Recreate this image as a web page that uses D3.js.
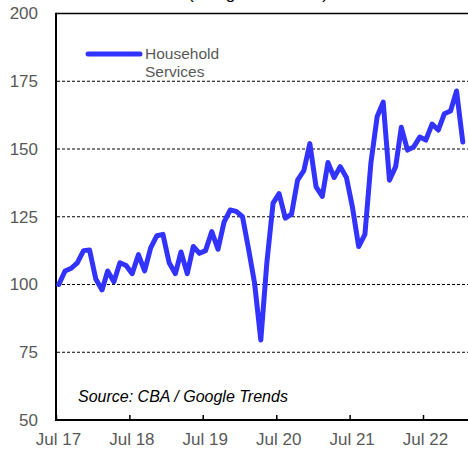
<!DOCTYPE html>
<html>
<head>
<meta charset="utf-8">
<script src="https://d3js.org/d3.v7.min.js"></script>
<style>
  body { margin: 0; background: #fff; }
  svg { display: block; font-family: "Liberation Sans", Arial, sans-serif; }
  .tick text { fill: #595959; font-size: 17px; }
  .grid line { stroke: #000; stroke-dasharray: 3,2; stroke-width: 1; }
</style>
</head>
<body>
<div id="chart"></div>
<script>
// monthly index, Jul 2017 .. Jan 2023
var startMonth = [2017, 6];
var household = [
  100, 105, 106, 108, 112.5, 112.7, 102, 98, 105, 101, 108, 107,
  104, 111, 105, 113.5, 118, 118.5, 108, 104, 112, 104, 114, 111.5,
  112.5, 119.5, 113, 123, 127.5, 127, 125, 112.7, 100.5, 79.5, 108, 130,
  133.5, 124.5, 126, 138.5, 142, 152, 136, 132.5, 145, 139.5, 143.5, 139.5,
  128.5, 114, 118.5, 145, 162, 167.3, 138.5, 143.5, 158, 149.6, 150.7, 154.4,
  153.3, 159.2, 157, 163, 164, 171.4, 152.6
];
var yTicks = [50, 75, 100, 125, 150, 175, 200];
var gridValues = [75, 100, 125, 150, 175];
var xTickYears = [2017, 2018, 2019, 2020, 2021, 2022];

var W = 468, H = 452;
var data = household.map(function(v, i) {
  return { date: new Date(startMonth[0], startMonth[1] + i, 15), value: v };
});

var svg = d3.select("#chart").append("svg").attr("width", W).attr("height", H);

var x = d3.scaleTime()
  .domain([new Date(2017, 6, 1), new Date(2022, 6, 1)])
  .range([56, 423]);
var y = d3.scaleLinear().domain([50, 200]).range([420, 13.5]);

// title, mostly above the visible area as in the reference
svg.append("text")
  .attr("x", 258).attr("y", -1)
  .attr("text-anchor", "middle")
  .style("font-size", "17px").style("fill", "#000")
  .text("(Google searches)");

// gridlines
svg.append("g").attr("class", "grid")
  .selectAll("line").data(gridValues).enter().append("line")
  .attr("x1", 57).attr("x2", W)
  .attr("y1", function(d) { return y(d); })
  .attr("y2", function(d) { return y(d); });

// top frame line
svg.append("line")
  .attr("x1", 56).attr("x2", W).attr("y1", y(200)).attr("y2", y(200))
  .attr("stroke", "#000").attr("stroke-width", 1.5);

// y axis labels
var yAxis = svg.append("g")
  .attr("transform", "translate(56,0)")
  .call(d3.axisLeft(y).tickValues(yTicks).tickSize(0).tickPadding(18));
yAxis.select(".domain").remove();

// x axis
var xAxis = svg.append("g")
  .attr("transform", "translate(0," + y(50) + ")")
  .call(d3.axisBottom(x)
    .tickValues(xTickYears.map(function(yr) { return new Date(yr, 6, 1); }))
    .tickFormat(d3.timeFormat("Jul %y"))
    .tickSizeInner(-5).tickSizeOuter(0).tickPadding(13));
xAxis.select(".domain").remove();
xAxis.selectAll(".tick line").attr("stroke", "#000").attr("stroke-width", 1.5);
xAxis.selectAll(".tick text").attr("dx", 2);

// axis lines
svg.append("line")
  .attr("x1", 55).attr("x2", W).attr("y1", y(50)).attr("y2", y(50))
  .attr("stroke", "#000").attr("stroke-width", 2);
svg.append("line")
  .attr("x1", 56).attr("x2", 56).attr("y1", y(200) - 0.75).attr("y2", y(50) + 1)
  .attr("stroke", "#000").attr("stroke-width", 2);

// series line
var line = d3.line()
  .x(function(d) { return x(d.date); })
  .y(function(d) { return y(d.value); });

svg.append("path")
  .datum(data)
  .attr("d", line)
  .attr("fill", "none")
  .attr("stroke", "#3333ff")
  .attr("stroke-width", 5)
  .attr("stroke-linejoin", "round")
  .attr("stroke-linecap", "round");

// legend
svg.append("line")
  .attr("x1", 88).attr("x2", 140).attr("y1", 54).attr("y2", 54)
  .attr("stroke", "#3333ff").attr("stroke-width", 5).attr("stroke-linecap", "round");
var lg = svg.append("text")
  .attr("x", 145).attr("y", 59)
  .style("font-size", "15.5px").style("fill", "#595959");
lg.append("tspan").attr("x", 145).text("Household");
lg.append("tspan").attr("x", 145).attr("dy", 17.5).text("Services");

// source note
svg.append("text")
  .attr("x", 78).attr("y", 402)
  .style("font-size", "16px").style("font-style", "italic").style("fill", "#000")
  .text("Source: CBA / Google Trends");
</script>
</body>
</html>
